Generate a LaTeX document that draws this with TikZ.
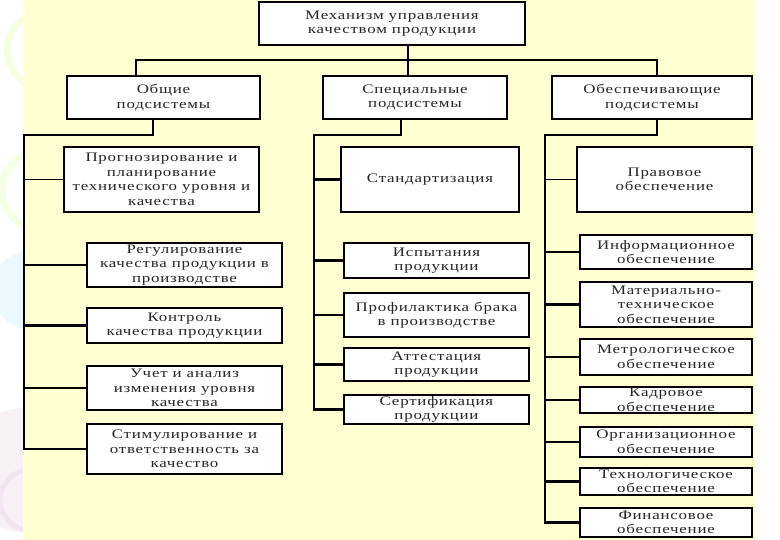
\documentclass[tikz,border=0pt]{standalone}
\usepackage{fontspec}
\usepackage{tikz}
\usetikzlibrary{calc}
\newfontfamily\boxfont[FakeStretch=1.3,LetterSpace=6]{Liberation Serif}
\definecolor{paper}{HTML}{FFFFD2}
\definecolor{inkgray}{HTML}{262626}
\tikzset{
  qbox/.style={draw,line width=2.6pt,fill=white,text=inkgray,align=center,
    inner sep=0pt,font=\boxfont\fontsize{13}{14.5}\selectfont},
  wh/.style 2 args={minimum width=#1pt,minimum height=#2pt},
  bus/.style={draw,line width=2.6pt,line cap=rect},
  twig/.style={draw,line width=2.4pt},
  thintwig/.style={draw,line width=1.1pt},
}

\begin{document}
\begin{tikzpicture}[x=1pt,y=-1pt]
  \useasboundingbox (0,0) rectangle (780,540);
  % background
  \fill[white] (0,0) rectangle (780,540);
  \begin{scope}
    \clip (0,0) rectangle (23,540);
    \draw[green!40!yellow!12,line width=7pt] (45,50) circle (38);
    \draw[green!40!yellow!10,line width=7pt] (42,190) circle (40);
    \fill[cyan!8] (32,290) circle (40);
    \fill[violet!6] (25,470) circle (62);
    \draw[violet!10,line width=5pt] (30,500) circle (30);
  \end{scope}
  \fill[paper] (23,0) rectangle (755,540);

  % top level
  \node[qbox,wh={266}{43}] at (392,23.5) (mech) {Механизм управления\\качеством продукции};
  \node[qbox,wh={193}{43}] at (163.5,97.5) (obsch) {Общие\\подсистемы};
  \node[qbox,wh={184}{43}] at (415,97.5) (spec) {Специальные\\подсистемы};
  \node[qbox,wh={200}{43}] at (652,97.5) (obesp) {Обеспечивающие\\подсистемы};

  % general subsystems
  \node[qbox,wh={195}{65}] at (161.5,179.5) (prog) {Прогнозирование и\\планирование\\технического уровня и\\качества};
  \node[qbox,wh={195}{44}] at (184.5,265) (regul) {Регулирование\\качества продукции в\\производстве};
  \node[qbox,wh={195}{35}] at (184.5,325.5) (kontr) {Контроль\\качества продукции};
  \node[qbox,wh={195}{44}] at (184.5,388) (uchet) {Учет и анализ\\изменения уровня\\качества};
  \node[qbox,wh={195}{50}] at (184.5,449) (stim) {Стимулирование и\\ответственность за\\качество};

  % special subsystems
  \node[qbox,wh={178}{65}] at (430,179.5) (stand) {Стандартизация};
  \node[qbox,wh={185}{35}] at (436.5,260.5) (ispyt) {Испытания\\продукции};
  \node[qbox,wh={185}{44}] at (436.5,315) (profil) {Профилактика брака\\в производстве};
  \node[qbox,wh={185}{33}] at (436.5,364.5) (attest) {Аттестация\\продукции};
  \node[qbox,wh={185}{29}] at (436.5,409.5) (sertif) {Сертификация\\продукции};

  % supporting subsystems
  \node[qbox,wh={175}{65}] at (664.5,179.5) (pravo) {Правовое\\обеспечение};
  \node[qbox,wh={172}{34}] at (666,252) (inform) {Информационное\\обеспечение};
  \node[qbox,wh={172}{45}] at (666,304.5) (mater) {Материально-\\техническое\\обеспечение};
  \node[qbox,wh={172}{36}] at (666,357) (metro) {Метрологическое\\обеспечение};
  \node[qbox,wh={172}{26}] at (666,400) (kadr) {Кадровое\\обеспечение};
  \node[qbox,wh={172}{30}] at (666,442) (organ) {Организационное\\обеспечение};
  \node[qbox,wh={172}{27}] at (666,481.5) (techn) {Технологическое\\обеспечение};
  \node[qbox,wh={172}{29}] at (666,522.5) (finan) {Финансовое\\обеспечение};

  % top bus
  \coordinate (hub) at (408,60);
  \coordinate (busL) at (136,60);
  \coordinate (busR) at (657,60);
  \draw[bus] (mech.south -| hub) -- (hub);
  \draw[bus] (obsch.north -| busL) -- (busL) -- (busR) -- (obesp.north -| busR);
  \draw[bus] (hub) -- (spec.north -| hub);

  % column buses
  \coordinate (dropA) at (153,135);
  \coordinate (colA) at (24,135);
  \draw[bus] (obsch.south -| dropA) -- (dropA) -- (colA) -- (colA |- stim.west);
  \coordinate (dropB) at (401,135);
  \coordinate (colB) at (314,135);
  \draw[bus] (spec.south -| dropB) -- (dropB) -- (colB) -- (colB |- sertif.west);
  \coordinate (dropC) at (657,135);
  \coordinate (colC) at (545,135);
  \draw[bus] (obesp.south -| dropC) -- (dropC) -- (colC) -- (colC |- finan.west);

  % branches
  \foreach \n/\w in {prog/thintwig,regul/twig,kontr/twig,uchet/twig,stim/thintwig}
    \draw[\w] (colA |- \n.west) -- (\n.west);
  \foreach \n/\w in {stand/twig,ispyt/twig,profil/thintwig,attest/twig,sertif/twig}
    \draw[\w] (colB |- \n.west) -- (\n.west);
  \foreach \n/\w in {pravo/thintwig,inform/twig,mater/twig,metro/thintwig,kadr/twig,organ/thintwig,techn/twig,finan/twig}
    \draw[\w] (colC |- \n.west) -- (\n.west);
\end{tikzpicture}
\end{document}
